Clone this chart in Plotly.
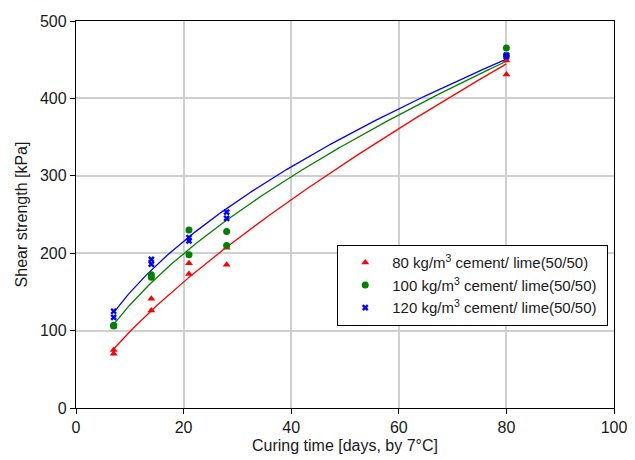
import numpy as np
import plotly.graph_objects as go

# Curing time (days) for each measured sample
days = [7, 7, 14, 14, 21, 21, 28, 28, 80, 80]

# Shear strength (kPa) per cement/lime dosage
s80 = [70, 75, 141, 126, 187, 173, 207, 185, 449, 431]
s100 = [106, 107, 172, 169, 230, 198, 228, 210, 465, 455]
s120 = [125, 117, 192, 186, 220, 216, 253, 245, 456, 454]

names = [
    "80 kg/m<sup>3</sup> cement/ lime(50/50) ",
    "100 kg/m<sup>3</sup> cement/ lime(50/50) ",
    "120 kg/m<sup>3</sup> cement/ lime(50/50) ",
]
colors = ["#ff0000", "#008000", "#0000ff"]
symbols = ["triangle-up", "circle", "x-thin-open"]

fig = go.Figure()

xfit = np.linspace(7, 80, 200)
for ys, col in zip([s80, s100, s120], colors):
    # power-law trendline fitted to the data (as a spreadsheet trendline)
    b, lna = np.polyfit(np.log(days), np.log(ys), 1)
    yfit = np.exp(lna) * xfit ** b
    fig.add_trace(go.Scatter(x=xfit, y=yfit, mode="lines",
                             line=dict(color=col, width=1.3),
                             showlegend=False, hoverinfo="skip"))

for ys, nm, col, sym in zip([s80, s100, s120], names, colors, symbols):
    if sym == "x-thin-open":
        mk = dict(symbol="x-thin-open", size=5, color=col, line=dict(color=col, width=2.4))
    elif sym == "circle":
        mk = dict(symbol="circle", size=7, color=col)
    else:
        mk = dict(symbol="triangle-up", size=7, color=col)
    fig.add_trace(go.Scatter(x=days, y=ys, mode="markers", name=nm, marker=mk))

axis_common = dict(
    showline=True, linecolor="black", linewidth=1.4, mirror=True,
    ticks="outside", ticklen=5, tickcolor="black", tickwidth=1.2,
    showgrid=True, gridcolor="#cfcfcf", gridwidth=1.5,
    zeroline=False,
    tickfont=dict(size=16, color="#1a1a1a"),
)

fig.update_layout(
    width=635, height=460,
    margin=dict(l=68, r=29, t=13, b=60, autoexpand=False),
    paper_bgcolor="white", plot_bgcolor="white",
    font=dict(family="Liberation Sans, Arial, sans-serif", color="#1a1a1a"),
    xaxis=dict(range=[0, 100], dtick=20,
               title=dict(text="Curing time [days, by 7°C]", font=dict(size=16), standoff=4),
               **axis_common),
    yaxis=dict(range=[0, 500], dtick=100,
               title=dict(text="Shear strength [kPa]", font=dict(size=16), standoff=8),
               **axis_common),
    legend=dict(x=0.485, y=0.421, xanchor="left", yanchor="top",
                bgcolor="white", bordercolor="black", borderwidth=1.3,
                font=dict(size=15, color="#1a1a1a"), tracegroupgap=0,
                itemsizing="trace", itemwidth=44),
    showlegend=True,
)

fig.write_html("out.html")
